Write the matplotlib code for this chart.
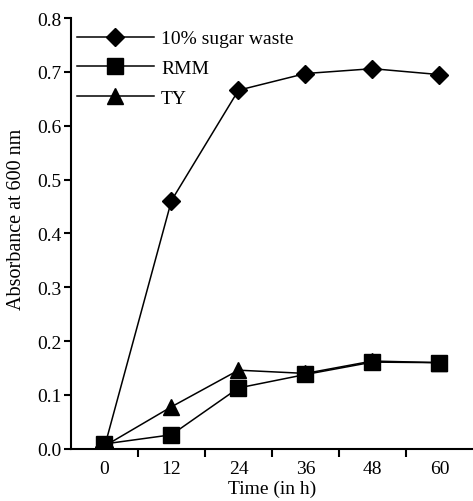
import matplotlib
matplotlib.use("Agg")
import matplotlib.pyplot as plt

plt.rcParams['font.family'] = ['Liberation Serif', 'DejaVu Serif']

hours = [0, 12, 24, 36, 48, 60]
sugar_waste = [0.003, 0.461, 0.666, 0.697, 0.706, 0.695]
rmm = [0.009, 0.026, 0.113, 0.138, 0.161, 0.160]
ty = [0.005, 0.078, 0.146, 0.140, 0.163, 0.160]
x_labels = ['0', '12', '24', '36', '48', '60']

fig = plt.figure(figsize=(4.73, 5.02), dpi=100)
ax = fig.add_axes([0.150, 0.104, 0.850, 0.858])

l1, = ax.plot(hours, sugar_waste, color='black', lw=1.1, marker='D', markersize=9, label='10% sugar waste')
l3, = ax.plot(hours, ty, color='black', lw=1.1, marker='^', markersize=11, label='TY')
l2, = ax.plot(hours, rmm, color='black', lw=1.1, marker='s', markersize=12, label='RMM')

ax.set_xlim(-6, 66)
ax.set_ylim(0, 0.8)

# ticks sit between the time points, labels sit on them
ax.set_xticks([6, 18, 30, 42, 54])
ax.set_xticklabels([])
ax.set_xticks(hours, minor=True)
ax.set_xticklabels(x_labels, minor=True)
ax.tick_params(axis='x', which='major', direction='out', length=6, width=1.5)
ax.tick_params(axis='x', which='minor', length=0, labelsize=14, pad=8)

ax.set_yticks([0.0, 0.1, 0.2, 0.3, 0.4, 0.5, 0.6, 0.7, 0.8])
ax.set_yticklabels(['0.0', '0.1', '0.2', '0.3', '0.4', '0.5', '0.6', '0.7', '0.8'])
ax.tick_params(axis='y', direction='out', length=5, width=1.5, labelsize=14, pad=2)

for side in ['top', 'right']:
    ax.spines[side].set_visible(False)
for side in ['left', 'bottom']:
    ax.spines[side].set_linewidth(1.5)

ax.set_xlabel('Time (in h)', fontsize=14, labelpad=2)
ax.set_ylabel('Absorbance at 600 nm', fontsize=14.5)
ax.yaxis.set_label_coords(-0.112, 0.536)

ax.legend(handles=[l1, l2, l3], loc='upper left', frameon=False, fontsize=14,
          handlelength=4.0, handletextpad=0.35, labelspacing=0.62,
          bbox_to_anchor=(-0.015, 1.0), borderaxespad=0.2)

fig.savefig('out.png', dpi=100)
